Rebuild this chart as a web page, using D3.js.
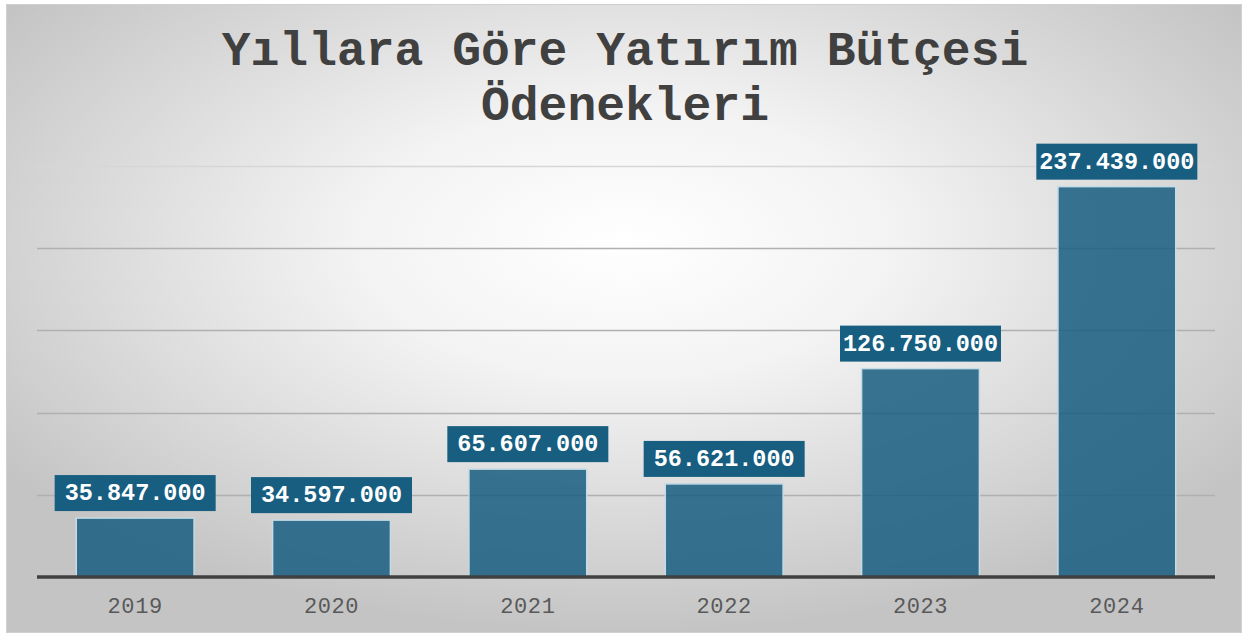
<!DOCTYPE html>
<html>
<head>
  <meta charset="utf-8">
  <script src="https://d3js.org/d3.v7.min.js"></script>
  <style>
    body { margin: 0; background: #fff; }
    svg { display: block; }
  </style>
</head>
<body>
<svg width="1247" height="634"></svg>
<script>
var years = ["2019", "2020", "2021", "2022", "2023", "2024"];
var values = [35847000, 34597000, 65607000, 56621000, 126750000, 237439000];
var gridTicks = [0, 50000000, 100000000, 150000000, 200000000, 250000000];
var titleLines = ["Yıllara Göre Yatırım Bütçesi", "Ödenekleri"];

var svg = d3.select("svg");
var mono = "'Liberation Mono', 'Courier New', monospace";

// background gradient
var defs = svg.append("defs");
var grad = defs.append("radialGradient")
  .attr("id", "bg")
  .attr("cx", "50%").attr("cy", "38%").attr("r", "62%");
grad.append("stop").attr("offset", "0%").attr("stop-color", "#ffffff");
grad.append("stop").attr("offset", "35%").attr("stop-color", "#f3f3f3");
grad.append("stop").attr("offset", "100%").attr("stop-color", "#c4c4c4");

svg.append("rect")
  .attr("x", 6.5).attr("y", 4.5)
  .attr("width", 1235).attr("height", 628)
  .attr("fill", "url(#bg)")
  .attr("stroke", "#d0d0d0");

var x = d3.scaleBand()
  .domain(years)
  .range([37, 1215])
  .paddingInner(0.4)
  .paddingOuter(0.2);

var y = d3.scaleLinear()
  .domain([0, 250000000])
  .range([577, 166]);

// gridlines
svg.append("g")
  .selectAll("line")
  .data(gridTicks.slice(1))
  .enter().append("line")
  .attr("x1", 37).attr("x2", 1215)
  .attr("y1", function(d) { return Math.round(y(d)) + 0.5; })
  .attr("y2", function(d) { return Math.round(y(d)) + 0.5; })
  .attr("stroke", function(d) { return d === 250000000 ? "#d6d6d6" : "#b0b0b0"; })
  .attr("stroke-width", 1.3);

// bars
svg.append("g")
  .selectAll("rect")
  .data(values)
  .enter().append("rect")
  .attr("x", function(d, i) { return x(years[i]); })
  .attr("y", function(d) { return y(d); })
  .attr("width", x.bandwidth())
  .attr("height", function(d) { return y(0) - y(d); })
  .attr("fill", "#175e80")
  .attr("fill-opacity", 0.85)
  .attr("stroke", "#c5dbe5")
  .attr("stroke-width", 1.5);

// baseline axis
var xAxis = d3.axisBottom(x).tickSize(0).tickPadding(20);
var ax = svg.append("g")
  .attr("transform", "translate(0," + y(0) + ")")
  .call(xAxis);
ax.select(".domain").remove();
ax.append("line")
  .attr("x1", 37).attr("x2", 1215)
  .attr("stroke", "#404040")
  .attr("stroke-width", 3.5);
ax.selectAll(".tick text")
  .attr("font-family", mono)
  .attr("font-size", "22px")
  .attr("letter-spacing", "0.6px")
  .attr("fill", "#595959")
  .attr("dy", null)
  .attr("y", 36);

// data labels
var fmt = function(v) { return d3.format(",")(v).replace(/,/g, "."); };
var labels = svg.append("g")
  .selectAll("g")
  .data(values)
  .enter().append("g")
  .attr("transform", function(d, i) {
    return "translate(" + (x(years[i]) + x.bandwidth() / 2) + "," + (y(d) - 7) + ")";
  });
labels.append("rect")
  .attr("x", -80.5).attr("y", -36)
  .attr("width", 161).attr("height", 36)
  .attr("fill", "#175e80");
labels.append("text")
  .attr("text-anchor", "middle")
  .attr("y", -11)
  .attr("font-family", mono)
  .attr("font-weight", "bold")
  .attr("font-size", "23.5px")
  .attr("fill", "#ffffff")
  .text(function(d) { return fmt(d); });

// title
svg.append("g")
  .selectAll("text")
  .data(titleLines)
  .enter().append("text")
  .attr("x", 625)
  .attr("y", function(d, i) { return 65 + i * 55; })
  .attr("text-anchor", "middle")
  .attr("font-family", mono)
  .attr("font-weight", "bold")
  .attr("font-size", "48px")
  .attr("fill", "#404040")
  .text(function(d) { return d; });
</script>
</body>
</html>
